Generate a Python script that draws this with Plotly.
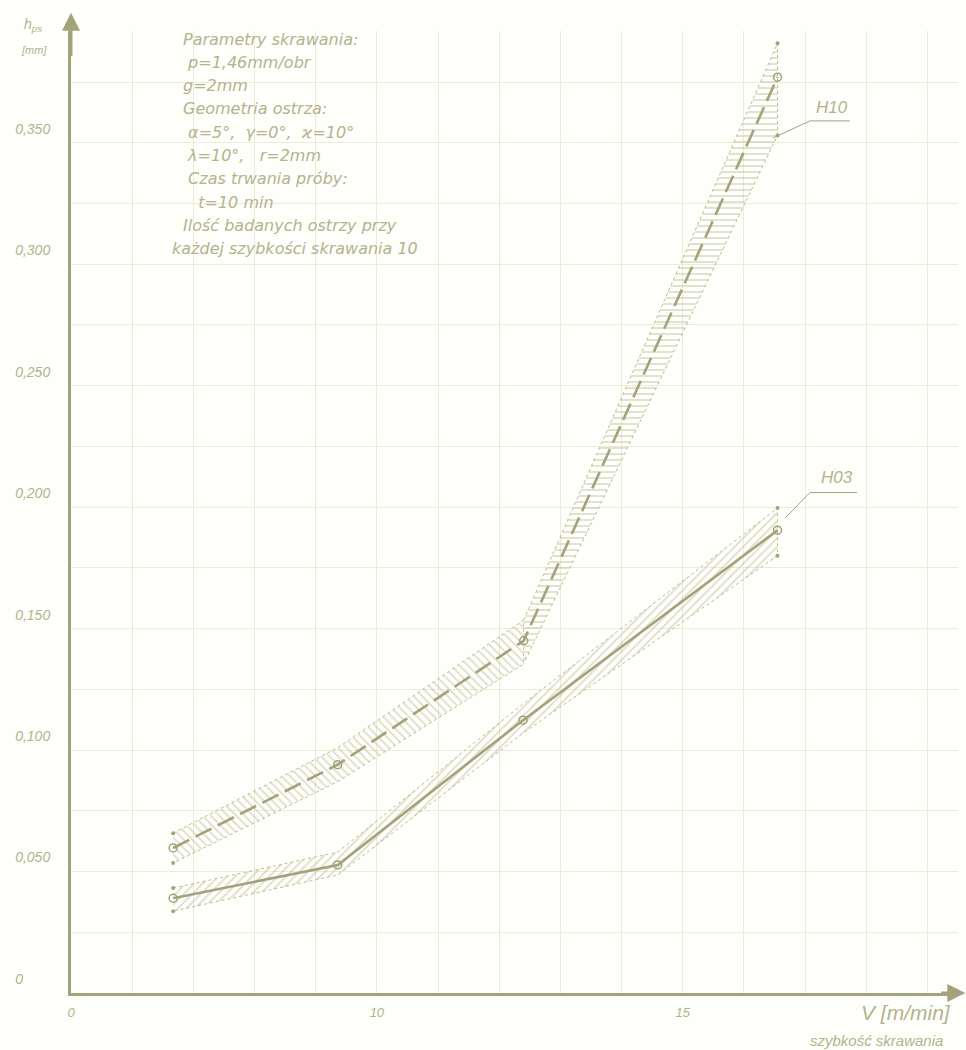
import plotly.graph_objects as go

# ---------------- data ----------------
speed_h03 = [6.67, 9.36, 12.39, 16.55]
h03_mean = [0.0390, 0.0527, 0.1123, 0.1905]
h03_upper = [0.0432, 0.0580, 0.1190, 0.1996]
h03_lower = [0.0337, 0.0486, 0.1070, 0.1800]

speed_h10 = [6.67, 9.36, 12.40, 16.55]
h10_mean = [0.0597, 0.0940, 0.1450, 0.3770]
h10_upper = [0.0658, 0.1010, 0.1535, 0.3910]
h10_lower = [0.0535, 0.0870, 0.1355, 0.3530]

y_tick_vals = [0, 0.05, 0.10, 0.15, 0.20, 0.25, 0.30, 0.35]
y_tick_text = ["0\u00a0\u00a0\u00a0\u00a0\u00a0\u00a0\u00a0", "0,050", "0,100", "0,150",
               "0,200", "0,250", "0,300", "0,350"]
x_tick_vals = [5, 10, 15]
x_tick_text = ["0", "10", "15"]

info_lines = [
    "Parametry skrawania:",
    " p=1,46mm/obr",
    "g=2mm",
    "Geometria ostrza:",
    " α=5°,  γ=0°,  ϰ=10°",
    " λ=10°,   r=2mm",
    " Czas trwania próby:",
    "   t=10 min",
    "Ilość badanych ostrzy przy",
    "każdej szybkości skrawania 10",
]
info_indent_px = [0, 0, 0, 0, 0, 0, 0, 0, 0, -11]

# ---------------- styling ----------------
INK = "#a3a27a"
INK_LIGHT = "#bdbc95"
TXT = "#b4b38c"
GRID = "#ebebd8"
FONT = "Liberation Sans"
FONT_HAND = "DejaVu Sans"

fig = go.Figure()


def band(xs, up, lo, shape, name):
    return go.Scatter(
        x=list(xs) + list(xs[::-1]),
        y=list(up) + list(lo[::-1]),
        fill="toself",
        fillcolor="rgba(0,0,0,0)",
        fillpattern=dict(shape=shape, fgcolor=INK_LIGHT, bgcolor="rgba(0,0,0,0)",
                         size=6, solidity=0.28),
        line=dict(color=INK_LIGHT, width=1, dash="dot"),
        mode="lines",
        hoverinfo="skip",
        showlegend=False,
        name=name,
    )


# H03 band
fig.add_trace(band(speed_h03, h03_upper, h03_lower, "/", "H03 band"))
# H10 band (two hatch directions like the drawing)
fig.add_trace(band(speed_h10[:3], h10_upper[:3], h10_lower[:3], "\\", "H10 band low"))
fig.add_trace(band(speed_h10[2:], h10_upper[2:], h10_lower[2:], "-", "H10 band high"))

# mean lines
fig.add_trace(go.Scatter(x=speed_h03, y=h03_mean, mode="lines+markers",
                         line=dict(color=INK, width=2.6),
                         marker=dict(symbol="circle-open", size=8, color=INK, line=dict(width=1.5)),
                         showlegend=False, name="H03"))
fig.add_trace(go.Scatter(x=speed_h10, y=h10_mean, mode="lines+markers",
                         line=dict(color=INK, width=2.6, dash="18px,7px"),
                         marker=dict(symbol="circle-open", size=8, color=INK, line=dict(width=1.5)),
                         showlegend=False, name="H10"))

# end dots of scatter bands
for xs, up, lo in [(speed_h03, h03_upper, h03_lower), (speed_h10, h10_upper, h10_lower)]:
    fig.add_trace(go.Scatter(x=[xs[0], xs[0], xs[-1], xs[-1]],
                             y=[up[0], lo[0], up[-1], lo[-1]],
                             mode="markers", marker=dict(size=4, color=INK),
                             showlegend=False, hoverinfo="skip"))

# ---------------- axes ----------------
fig.update_xaxes(
    range=[5, 19.5], tickvals=x_tick_vals, ticktext=x_tick_text,
    showgrid=True, gridcolor=GRID, gridwidth=1,
    minor=dict(tick0=5, dtick=1, showgrid=True, gridcolor=GRID, gridwidth=1),
    showline=True, linecolor=INK, linewidth=3, zeroline=False,
    ticks="", ticklabelstandoff=5,
    tickfont=dict(family=FONT, size=13, color=TXT, style="italic"),
)
fig.update_yaxes(
    range=[0, 0.396], tickvals=y_tick_vals, ticktext=y_tick_text,
    showgrid=True, gridcolor=GRID, gridwidth=1.3,
    minor=dict(tick0=0, dtick=0.025, showgrid=True, gridcolor=GRID, gridwidth=1.3),
    showline=True, linecolor=INK, linewidth=3, zeroline=False,
    ticks="", ticklabelstandoff=15, ticklabelshift=-14,
    tickfont=dict(family=FONT, size=14, color=TXT, style="italic"),
)

# axis arrows
fig.add_annotation(x=5, y=0.4035, ax=5, ay=0.385, xref="x", yref="y", axref="x", ayref="y",
                   showarrow=True, arrowhead=2, arrowsize=1.2, arrowwidth=3, arrowcolor=INK, text="")
fig.add_annotation(x=19.62, y=0, ax=19.2, ay=0, xref="x", yref="y", axref="x", ayref="y",
                   showarrow=True, arrowhead=2, arrowsize=1.2, arrowwidth=3, arrowcolor=INK, text="")

# axis titles (paper coords: x=(px-71)/887, y=(993-py)/962)
fig.add_annotation(x=(33 - 71) / 887, y=(993 - 25) / 962, xref="paper", yref="paper", showarrow=False,
                   xanchor="center", yanchor="middle",
                   text="h<sub>ps</sub>", font=dict(family=FONT, size=14, color=TXT, style="italic"))
fig.add_annotation(x=(34 - 71) / 887, y=(993 - 50) / 962, xref="paper", yref="paper", showarrow=False,
                   xanchor="center", yanchor="middle",
                   text="[mm]", font=dict(family=FONT, size=11, color=TXT, style="italic"))
fig.add_annotation(x=(906 - 71) / 887, y=(993 - 1013) / 962, xref="paper", yref="paper", showarrow=False,
                   xanchor="center", yanchor="middle",
                   text="V [m/min]", font=dict(family=FONT, size=21, color=TXT, style="italic"))
fig.add_annotation(x=(945 - 71) / 887, y=(993 - 1040) / 962, xref="paper", yref="paper", showarrow=False,
                   xanchor="right", yanchor="middle",
                   text="szybkość skrawania", font=dict(family=FONT, size=15, color=TXT, style="italic"))

# info block
for i, line in enumerate(info_lines):
    py = 39 + i * 23.3
    fig.add_annotation(x=(181 + info_indent_px[i] - 71) / 887, y=(993 - py) / 962,
                       xref="paper", yref="paper",
                       xanchor="left", yanchor="middle", showarrow=False,
                       text=line.replace(" ", "&nbsp;"),
                       font=dict(family=FONT_HAND, size=16, color=TXT, style="italic"))

# series labels with leaders
for lab, pts, tx, ty in [
    ("H10", [(16.48, 0.352), (17.08, 0.359), (17.73, 0.359)], 17.44, 0.3645),
    ("H03", [(16.67, 0.1954), (17.08, 0.206), (17.85, 0.206)], 17.52, 0.2123),
]:
    fig.add_trace(go.Scatter(x=[p[0] for p in pts], y=[p[1] for p in pts], mode="lines",
                             line=dict(color=INK, width=1), showlegend=False, hoverinfo="skip"))
    fig.add_annotation(x=tx, y=ty, xref="x", yref="y", showarrow=False,
                       xanchor="center", yanchor="middle",
                       text=lab, font=dict(family=FONT, size=17, color=TXT, style="italic"))

fig.update_layout(
    width=966, height=1050,
    margin=dict(l=71, r=8, t=31, b=57),
    paper_bgcolor="#fefefb", plot_bgcolor="#fefefb",
    showlegend=False,
)

fig.write_html("out.html")
